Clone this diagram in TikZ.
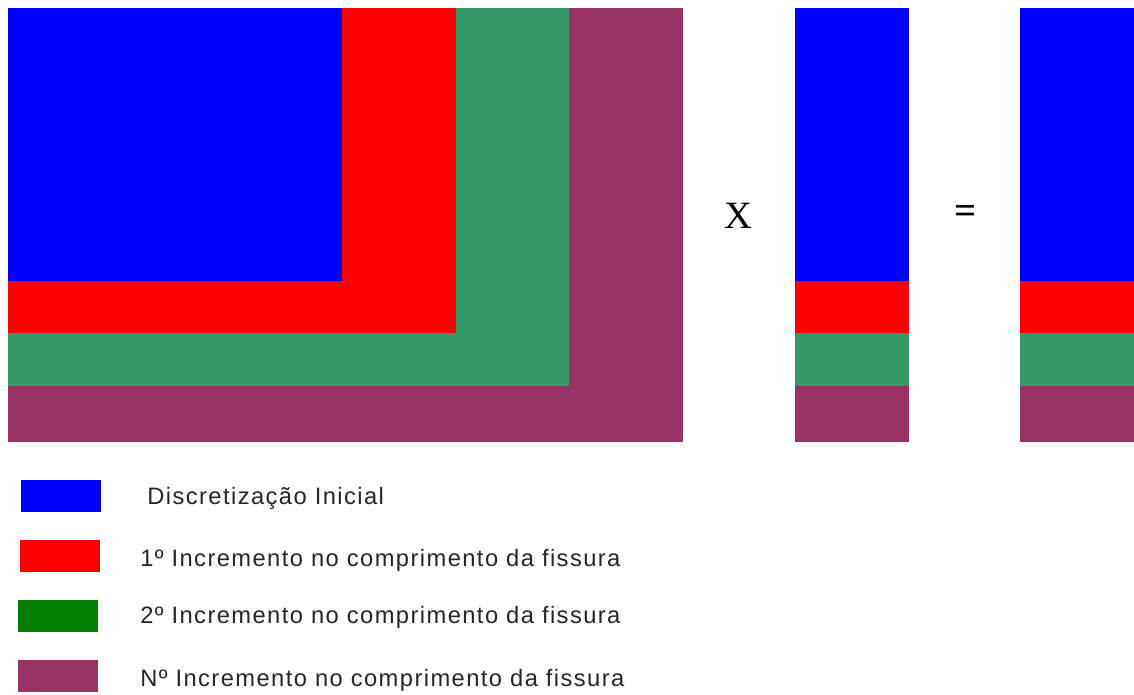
\documentclass[tikz,border=0pt]{standalone}
\usepackage{fontspec}
\setmainfont{Liberation Sans}
\newfontfamily\opfont{Liberation Serif}
\usetikzlibrary{positioning}
\definecolor{blk1}{RGB}{0,0,255}
\definecolor{blk2}{RGB}{255,0,0}
\definecolor{blk3}{RGB}{52,153,103}
\definecolor{blk4}{RGB}{153,51,102}
\definecolor{leg3}{RGB}{0,128,0}
\tikzset{
  swatch/.style={draw=none, minimum width=1.6cm, minimum height=0.64cm, inner sep=0pt},
  legtext/.style={anchor=west, inner sep=0pt, text=black!85,
    font=\fontsize{13.5}{16}\selectfont\addfontfeature{LetterSpace=6}},
  optext/.style={font=\opfont\fontsize{22}{24}\selectfont}
}

\begin{document}
\begin{tikzpicture}[x=0.02cm,y=-0.02cm]
\useasboundingbox[fill=white] (0,0) rectangle (1134,695);

% Matrix
\fill[blk4] (8,8) rectangle (683,442);
\fill[blk3] (8,8) rectangle (569,386);
\fill[blk2] (8,8) rectangle (456,333);
\fill[blk1] (8,8) rectangle (342,281);

% Vectors
\foreach \x in {795,1020} {
  \fill[blk1] (\x,8) rectangle (\x+114,281);
  \fill[blk2] (\x,281) rectangle (\x+114,333);
  \fill[blk3] (\x,333) rectangle (\x+114,386);
  \fill[blk4] (\x,386) rectangle (\x+114,442);
}

% Operators
\node[optext] (times) at (738,216) {X};
\node[optext, font=\opfont\bfseries\fontsize{22}{24}\selectfont] (equals) at (966,214) {=};

% Legend
\node[swatch, fill=blk1] (sw1) at (61,496) {};
\node[swatch, fill=blk2] (sw2) at (60,556) {};
\node[swatch, fill=leg3] (sw3) at (58,616) {};
\node[swatch, fill=blk4] (sw4) at (58,676) {};
\node[legtext] (lab1) at (147,498) {Discretização Inicial};
\node[legtext] (lab2) at (140,560) {1º Incremento no comprimento da fissura};
\node[legtext] (lab3) at (140,617) {2º Incremento no comprimento da fissura};
\node[legtext] (lab4) at (140,680) {Nº Incremento no comprimento da fissura};
\end{tikzpicture}
\end{document}
